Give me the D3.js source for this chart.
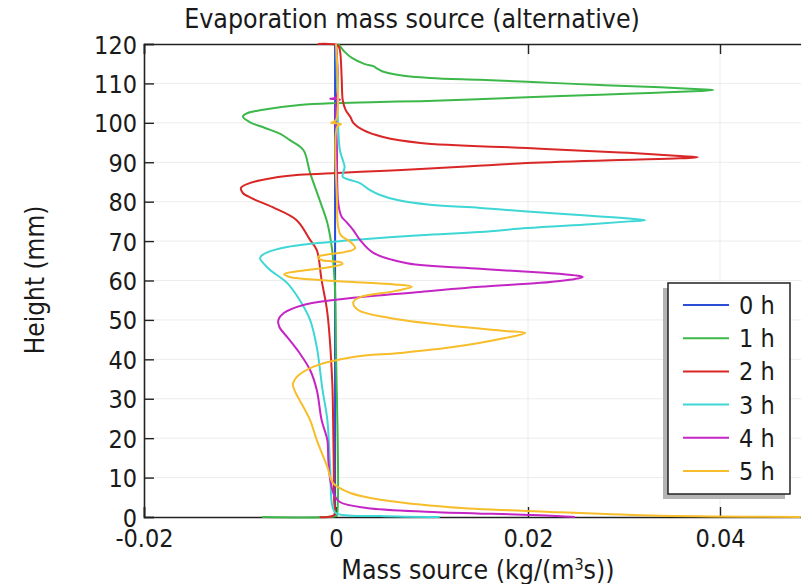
<!DOCTYPE html>
<html>
<head>
<meta charset="utf-8">
<script src="https://cdn.jsdelivr.net/npm/d3@7"></script>
<style>
  body { margin: 0; background: #fff; }
  text { font-family: "DejaVu Sans Condensed", "DejaVu Sans", sans-serif; font-stretch: condensed; fill: #1a1a1a; }
</style>
</head>
<body>
<div id="chart"></div>
<script>
// series: [mass source (kg/(m^3 s)), height (mm)]
const labels = ["0 h", "1 h", "2 h", "3 h", "4 h", "5 h"];
const colors = ["#2b4fd8", "#3cb84a", "#d92626", "#3fd6d6", "#c425c4", "#f7bd2a"];

const h0 = [[-0.0001, 120], [-0.0001, 0]];

const h1 = [
  [0.0002, 120], [0.0004, 119.5], [0.0009, 118.0], [0.0017, 116.4], [0.0030, 114.9],
  [0.0039, 114.4], [0.0042, 113.9], [0.0048, 113.1], [0.0067, 112.1], [0.0098, 111.4],
  [0.0150, 110.9], [0.0199, 110.4], [0.0275, 109.6], [0.0338, 109.0], [0.0379, 108.5],
  [0.0393, 108.3], [0.0379, 108.1], [0.0327, 107.6], [0.0275, 107.1], [0.0199, 106.5],
  [0.0140, 105.9], [0.0088, 105.5], [0.0046, 105.3], [0, 105.0], [-0.0038, 104.5],
  [-0.0076, 103.3], [-0.0092, 102.5], [-0.0097, 101.6], [-0.0090, 100.2], [-0.0074, 98.7],
  [-0.0058, 97.2], [-0.0048, 95.6], [-0.0034, 93.1], [-0.0027, 87.3], [-0.0017, 80.4],
  [-0.0009, 74.6], [-0.0004, 67.7], [-0.0001, 57.6], [0, 42.4], [0.0001, 0.5],
  [0, 0.25], [-0.0077, 0]
];

const h2 = [
  [-0.0019, 120], [0.0002, 119.6], [0.0004, 118.5], [0.0006, 110.9], [0.0007, 105.8],
  [0.0010, 103.3], [0.0015, 101.5], [0.0018, 100.0], [0.0028, 98.2], [0.0049, 96.4],
  [0.0088, 94.9], [0.0199, 93.6], [0.0296, 92.5], [0.0358, 91.6], [0.0377, 91.3],
  [0.0358, 91.0], [0.0296, 90.6], [0.0199, 89.8], [0.0140, 89.0], [0.0088, 88.3],
  [0.0046, 87.8], [0.0001, 87.3], [-0.0038, 86.8], [-0.0066, 86.0], [-0.0090, 84.7],
  [-0.0099, 83.5], [-0.0097, 82.2], [-0.0088, 80.9], [-0.0066, 78.6], [-0.0041, 75.3],
  [-0.0027, 70.3], [-0.0020, 67.7], [-0.0015, 60.1], [-0.0009, 51.8], [-0.0004, 34.8],
  [-0.0003, 24.6], [-0.0002, 4.3], [-0.0002, 0.5], [-0.0017, 0]
];

const h3 = [
  [0, 120], [0.0001, 110.9], [0.0002, 100.7], [0.0004, 93.1], [0.0007, 90.6],
  [0.0009, 88.8], [0.0007, 86.3], [0.0015, 85.5], [0.0025, 84.7], [0.0035, 83.0],
  [0.0046, 81.7], [0.0064, 80.4], [0.0098, 79.2], [0.0150, 78.4], [0.0199, 77.5],
  [0.0265, 76.4], [0.0306, 75.7], [0.0322, 75.3], [0.0306, 75.0], [0.0265, 74.3],
  [0.0199, 73.3], [0.0150, 72.3], [0.0088, 71.5], [0.0018, 70.3], [-0.0027, 69.3],
  [-0.0051, 68.5], [-0.0071, 67.2], [-0.0078, 66.2], [-0.0079, 65.5], [-0.0075, 64.2],
  [-0.0069, 62.7], [-0.0051, 59.4], [-0.0038, 55.1], [-0.0027, 50.0], [-0.0020, 43.1],
  [-0.0014, 32.2], [-0.0009, 24.6], [-0.0006, 11.9], [-0.0004, 3.0], [0, 1.0],
  [0.0046, 0.25], [0.0108, 0]
];

const h4 = [
  [0, 120], [0, 106.5], [-0.0006, 106.1], [0.0004, 105.9], [0.0001, 105.5],
  [0.0001, 93.1], [0.0002, 80.4], [0.0004, 77.4], [0.0006, 76.1], [0.0011, 74.8],
  [0.0018, 72.8], [0.0025, 70.3], [0.0039, 67.0], [0.0074, 64.4], [0.0150, 63.0],
  [0.0213, 62.0], [0.0249, 61.3], [0.0257, 60.9], [0.0249, 60.4], [0.0213, 59.4],
  [0.0150, 58.4], [0.0088, 57.1], [0.0018, 55.6], [-0.0034, 53.8], [-0.0054, 51.8],
  [-0.0060, 50.0], [-0.0059, 48.2], [-0.0051, 45.7], [-0.0038, 41.6], [-0.0027, 37.3],
  [-0.0020, 32.2], [-0.0015, 24.6], [-0.0009, 19.5], [-0.0008, 14.5], [-0.0006, 9.4],
  [-0.0002, 5.6], [0.0004, 3.8], [0.0032, 2.3], [0.0101, 1.3], [0.0205, 0.5],
  [0.0249, 0]
];

const h5 = [
  [0, 120], [0, 100.7], [-0.0005, 100.0], [0.0005, 99.7], [0.0001, 98.9],
  [0.0001, 80.4], [0.0002, 74.1], [0.0005, 71.5], [0.0015, 69.8], [0.0020, 68.2],
  [0.0009, 67.2], [-0.0006, 66.7], [-0.0019, 66.0], [-0.0015, 65.2], [0.0004, 64.7],
  [0.0007, 64.2], [-0.0006, 63.4], [-0.0038, 62.4], [-0.0054, 61.6], [-0.0048, 60.9],
  [-0.0017, 60.1], [0.0018, 59.6], [0.0061, 59.0], [0.0079, 58.4], [0.0061, 57.3],
  [0.0025, 55.8], [0.0018, 54.5], [0.0023, 52.5], [0.0056, 50.5], [0.0119, 48.5],
  [0.0176, 47.2], [0.0197, 46.7], [0.0176, 45.4], [0.0122, 43.1], [0.0067, 41.6],
  [0.0018, 40.6], [-0.0024, 38.1], [-0.0041, 35.5], [-0.0045, 33.7], [-0.0042, 31.5],
  [-0.0038, 29.7], [-0.0027, 24.6], [-0.0020, 19.5], [-0.0009, 12.7], [-0.0003, 8.6],
  [0.0015, 6.1], [0.0049, 4.3], [0.0119, 2.5], [0.0223, 1.3], [0.0327, 0.4],
  [0.0484, 0]
];

const series = [h0, h1, h2, h3, h4, h5];
const xTicks = [-0.02, 0, 0.02, 0.04];
const xTickLabels = ["-0.02", "0", "0.02", "0.04"];
const yTicks = [0, 10, 20, 30, 40, 50, 60, 70, 80, 90, 100, 110, 120];

const W = 801, H = 584;
const m = {left: 144, top: 44, bottom: 517, right: 816};

const svg = d3.select("#chart").append("svg")
  .attr("width", W)
  .attr("height", H);

const x = d3.scaleLinear().domain([-0.02, 0.05]).range([m.left, m.right]);
const y = d3.scaleLinear().domain([0, 120]).range([m.bottom, m.top]);

// grid
svg.append("g").selectAll("line")
  .data(yTicks.slice(1, -1))
  .enter().append("line")
  .attr("x1", m.left).attr("x2", m.right)
  .attr("y1", d => y(d)).attr("y2", d => y(d))
  .attr("stroke", "#ececec").attr("stroke-width", 1);

svg.append("g").selectAll("line")
  .data(xTicks.slice(1))
  .enter().append("line")
  .attr("x1", d => x(d)).attr("x2", d => x(d))
  .attr("y1", m.top).attr("y2", m.bottom)
  .attr("stroke", "#ececec").attr("stroke-width", 1);

// axes (inward ticks)
const yAxis = svg.append("g")
  .attr("transform", `translate(${m.left},0)`)
  .call(d3.axisLeft(y).tickValues(yTicks).tickSize(-10).tickPadding(7).tickFormat(d3.format("d")));
const xAxis = svg.append("g")
  .attr("transform", `translate(0,${m.bottom})`)
  .call(d3.axisBottom(x).tickValues(xTicks).tickSize(-10).tickPadding(12)
    .tickFormat((d, i) => xTickLabels[i]));
const xTop = svg.append("g")
  .attr("transform", `translate(0,${m.top})`)
  .call(d3.axisTop(x).tickValues(xTicks).tickSize(-10).tickFormat(""));

[yAxis, xAxis, xTop].forEach(g => {
  g.selectAll(".domain").attr("stroke", "#222").attr("stroke-width", 1.6);
  g.selectAll(".tick line").attr("stroke", "#222").attr("stroke-width", 1.4);
  g.selectAll(".tick text").style("font-size", "25px").attr("fill", "#1a1a1a");
});
yAxis.selectAll(".tick text").attr("dy", "0.36em");

// curves
svg.append("defs").append("clipPath").attr("id", "clip")
  .append("rect").attr("x", m.left).attr("y", m.top - 2)
  .attr("width", m.right - m.left).attr("height", m.bottom - m.top + 4);

const line = d3.line()
  .x(d => x(d[0]))
  .y(d => y(d[1]))
  .curve(d3.curveCatmullRom.alpha(0.5));

svg.append("g").attr("clip-path", "url(#clip)")
  .selectAll("path")
  .data(series)
  .enter().append("path")
  .attr("d", line)
  .attr("fill", "none")
  .attr("stroke", (d, i) => colors[i])
  .attr("stroke-width", 2)
  .attr("stroke-linejoin", "round");

// titles
svg.append("text")
  .attr("x", 412).attr("y", 28)
  .attr("text-anchor", "middle")
  .style("font-size", "26.5px")
  .text("Evaporation mass source (alternative)");

const xt = svg.append("text")
  .attr("x", 478).attr("y", 579)
  .attr("text-anchor", "middle")
  .style("font-size", "26.5px");
xt.append("tspan").text("Mass source (kg/(m");
xt.append("tspan").attr("baseline-shift", "super").style("font-size", "16px").text("3");
xt.append("tspan").text("s))");

svg.append("text")
  .attr("transform", "translate(44,280) rotate(-90)")
  .attr("text-anchor", "middle")
  .style("font-size", "26px")
  .text("Height (mm)");

// legend
const lg = svg.append("g").attr("transform", "translate(668,283)");
lg.append("rect")
  .attr("x", -5).attr("y", 5)
  .attr("width", 122).attr("height", 211)
  .attr("fill", "#b4b4b4");
lg.append("rect")
  .attr("width", 122).attr("height", 211)
  .attr("fill", "#fff").attr("stroke", "#222").attr("stroke-width", 1.5);

const items = lg.selectAll("g.item")
  .data(labels)
  .enter().append("g")
  .attr("class", "item")
  .attr("transform", (d, i) => `translate(0,${22 + i * 33.2})`);
items.append("line")
  .attr("x1", 15).attr("x2", 61)
  .attr("stroke", (d, i) => colors[i]).attr("stroke-width", 2);
items.append("text")
  .attr("x", 71).attr("dy", "0.36em")
  .style("font-size", "25px")
  .text(d => d);
</script>
</body>
</html>
